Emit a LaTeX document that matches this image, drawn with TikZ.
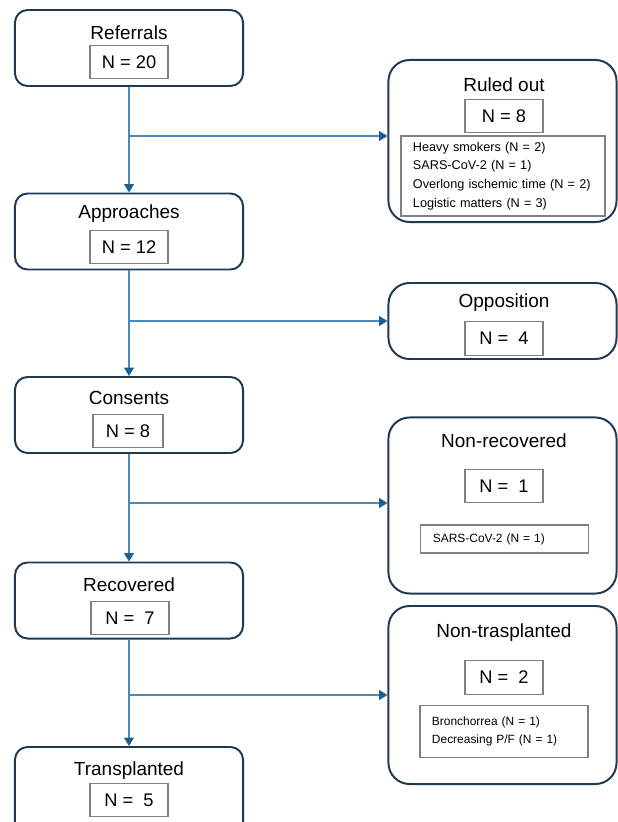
\documentclass[tikz,border=0pt]{standalone}
\usepackage{fontspec}
\setmainfont{Liberation Sans}
\usetikzlibrary{arrows.meta}
\definecolor{boxnavy}{HTML}{1F3A52}
\definecolor{flowblue}{HTML}{4A8BBE}
\definecolor{tipblue}{HTML}{1F5F8F}
\definecolor{countgray}{HTML}{808080}
\begin{document}
\begin{tikzpicture}[
          x=0.025cm, y=-0.025cm,
          stage/.style={
            draw=boxnavy, line width=1.4pt, rounded corners=9pt,
            minimum width=5.7cm, minimum height=1.9cm, inner sep=0pt
          },
          side/.style={stage, rounded corners=15pt},
          title/.style={font=\fontsize{13.5}{16}\selectfont, inner sep=0pt},
          count/.style={
            draw=countgray, line width=0.8pt, font=\fontsize{13}{15}\selectfont,
            minimum width=1.95cm, minimum height=0.83cm, inner sep=0pt
          },
          reasons/.style={
            draw=countgray, line width=0.8pt, font=\fontsize{8.5}{13}\selectfont,
            align=left, inner xsep=0.3cm, inner ysep=0pt
          },
          flow/.style={draw=flowblue, line width=0.9pt},
          tip/.style={flow, -{Triangle[width=7pt, length=6pt, color=tipblue]}},
        ]
          \useasboundingbox (0,0) rectangle (618,822);
          \clip (0,0) rectangle (618,822);

          % --- left column: stages ---
          \node[stage] (ref) at (129, 48) {};
          \node[title] (refT) at (129, 33) {Referrals};
          \node[count] (refN) at (129, 62) {N = 20};

          \node[stage] (app) at (129, 231.5) {};
          \node[title] (appT) at (129, 214) {Approaches};
          \node[count] (appN) at (129, 247) {N = 12};

          \node[stage] (con) at (129, 415) {};
          \node[title] (conT) at (129, 398) {Consents};
          \node[count, minimum width=1.75cm] (conN) at (128, 431) {N = 8};

          \node[stage] (rec) at (129, 600.5) {};
          \node[title] (recT) at (129, 585) {Recovered};
          \node[count] (recN) at (130, 618) {N =\ \ 7};

          \node[stage, minimum height=2.2cm] (tra) at (129, 791) {};
          \node[title] (traT) at (129, 771) {Transplanted};
          \node[count] (traN) at (129, 800) {N =\ \ 5};

          % --- right column: exclusions ---
          \node[side, minimum height=4.05cm] (rul) at (502.5, 141) {};
          \node[title] (rulT) at (504, 85) {Ruled out};
          \node[count] (rulN) at (504, 116) {N = 8};
          \node[reasons, font=\fontsize{9}{13.2}\selectfont, minimum width=5.1cm, minimum height=2cm, text width=4.5cm] (rulR) at (503, 176) {%
            Heavy smokers (N = 2)\\
            SARS-CoV-2 (N = 1)\\
            Overlong ischemic time (N = 2)\\
            Logistic matters (N = 3)};

          \node[side, minimum height=1.9cm] (opp) at (502.5, 321) {};
          \node[title] (oppT) at (504, 303) {Opposition};
          \node[count] (oppN) at (504, 338.5) {N =\ \ 4};

          \node[side, minimum height=4.4cm] (nrc) at (502.5, 505.5) {};
          \node[title] (nrcT) at (504, 441) {Non-recovered};
          \node[count] (nrcN) at (504, 486) {N =\ \ 1};
          \node[reasons, minimum width=4.18cm, minimum height=0.7cm, text width=3.58cm] (nrcR) at (504.5, 539) {SARS-CoV-2 (N = 1)};

          \node[side, minimum height=4.45cm] (ntr) at (502.5, 695) {};
          \node[title] (ntrT) at (504, 633) {Non-trasplanted};
          \node[count] (ntrN) at (504, 677.5) {N =\ \ 2};
          \node[reasons, minimum width=4.2cm, minimum height=1.28cm, text width=3.6cm] (ntrR) at (504, 731.5) {%
            Bronchorrea (N = 1)\\
            Decreasing P/F (N = 1)};

          % --- connectors ---
          \draw[tip] (ref.south) -- (app.north);
          \draw[tip] (app.south) -- (con.north);
          \draw[tip] (con.south) -- (rec.north);
          \draw[tip] (rec.south) -- (tra.north);

          \coordinate (b1) at (128, 136);
          \coordinate (b2) at (128, 321);
          \coordinate (b3) at (128, 503);
          \coordinate (b4) at (128, 695);
          \draw[tip] (b1) -- (b1 -| rul.west);
          \draw[tip] (b2) -- (b2 -| opp.west);
          \draw[tip] (b3) -- (b3 -| nrc.west);
          \draw[tip] (b4) -- (b4 -| ntr.west);
        \end{tikzpicture}
\end{document}
